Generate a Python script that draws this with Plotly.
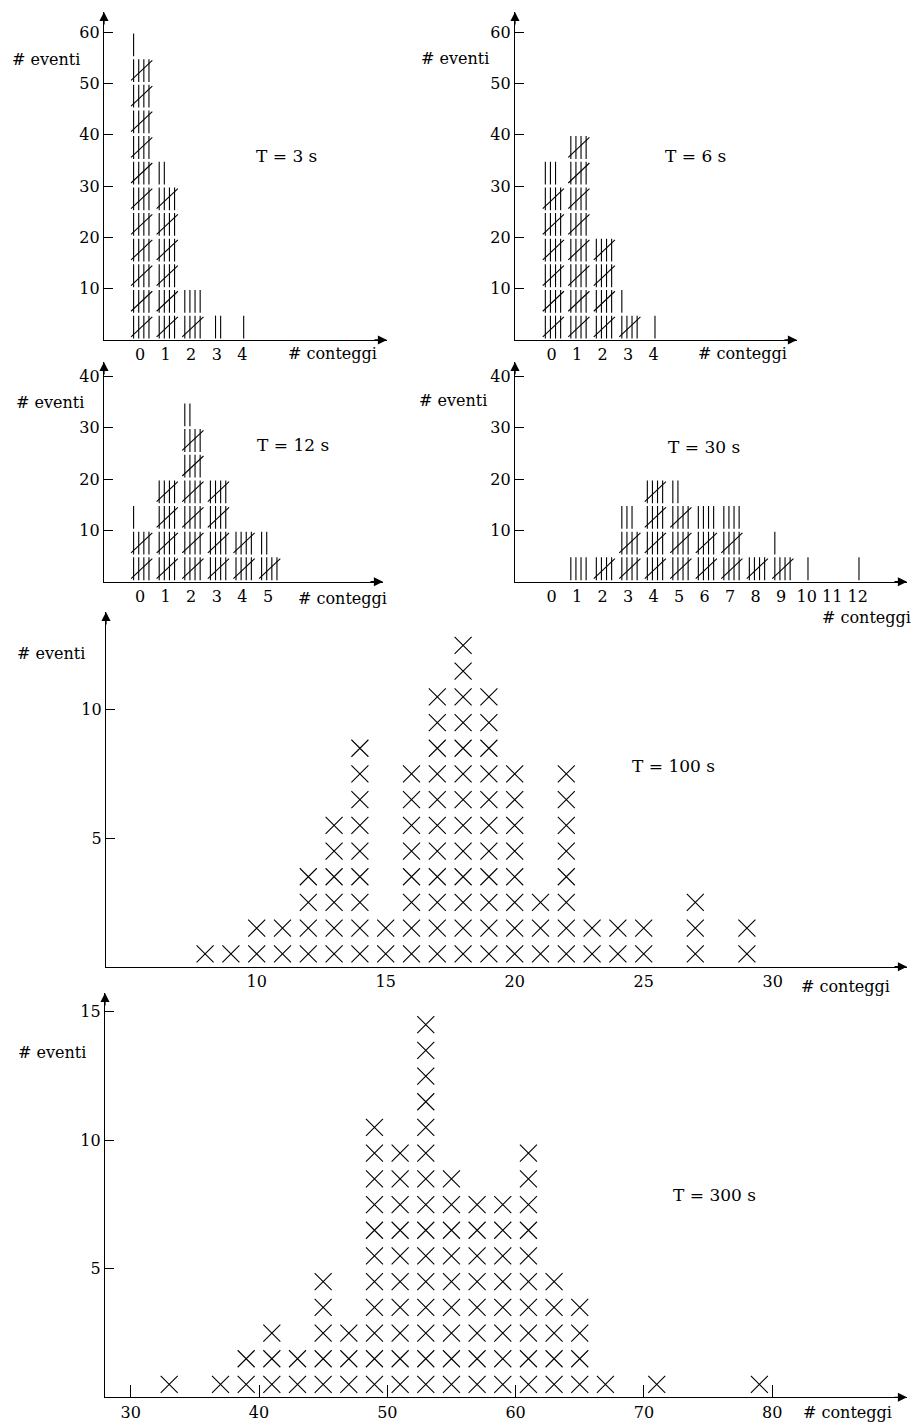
import plotly.graph_objects as go

W, H = 915, 1423
FONT = "DejaVu Serif"

# ---- data: number of intervals (# eventi) recording a given count (# conteggi)
t3_bins = [0, 1, 2, 3, 4]
t3_counts = [56, 32, 9, 2, 1]

t6_bins = [0, 1, 2, 3, 4]
t6_counts = [33, 40, 20, 6, 1]

t12_bins = [0, 1, 2, 3, 4, 5]
t12_counts = [11, 20, 32, 20, 10, 7]

t30_bins = [0, 1, 2, 3, 4, 5, 6, 7, 8, 9, 10, 11, 12]
t30_counts = [0, 4, 5, 13, 20, 17, 14, 14, 5, 6, 1, 0, 1]

t100_bins = [8, 9, 10, 11, 12, 13, 14, 15, 16, 17, 18, 19, 20, 21, 22, 23, 24, 25, 27, 29]
t100_counts = [1, 1, 2, 2, 4, 6, 9, 2, 8, 11, 13, 11, 8, 3, 8, 2, 2, 2, 3, 2]

t300_bins = [33, 37, 39, 41, 43, 45, 47, 49, 51, 53, 55, 57, 59, 61, 63, 65, 67, 71, 79]
t300_counts = [1, 1, 2, 3, 2, 5, 3, 11, 10, 15, 9, 8, 8, 10, 5, 4, 1, 1, 1]

# tick labels
t3_xticks = [0, 1, 2, 3, 4]
t12_xticks = [0, 1, 2, 3, 4, 5]
t30_xticks = list(range(13))
t100_xticks = [10, 15, 20, 25, 30]
t300_xticks = [30, 40, 50, 60, 70, 80]
yticks_60 = [10, 20, 30, 40, 50, 60]
yticks_40 = [10, 20, 30, 40]
yticks_10 = [5, 10]
yticks_15 = [5, 10, 15]

# ---- panel geometry in pixels:
# left, right(arrow tip), bottom(x axis), top(arrow tip), ref px, ref value, px/unit x, px/unit y
panels = [
    dict(name="T = 3 s", geo=(104, 387, 340, 12, 140.0, 0, 25.6, 5.13),
         label=(286, 156), ev=(46, 60), co=(332, 353)),
    dict(name="T = 6 s", geo=(515, 797, 340, 12, 551.7, 0, 25.5, 5.13),
         label=(695, 156), ev=(455, 58), co=(742, 353)),
    dict(name="T = 12 s", geo=(104, 383, 581.7, 362, 140.0, 0, 25.6, 5.13),
         label=(293, 445), ev=(50, 403), co=(342, 598)),
    dict(name="T = 30 s", geo=(515, 907, 581.7, 362, 551.7, 0, 25.5, 5.13),
         label=(704, 447), ev=(453, 400), co=(866, 617)),
    dict(name="T = 100 s", geo=(106, 907, 966.7, 612, 256.7, 10, 25.8, 25.7),
         label=(673, 766), ev=(51, 653), co=(845, 986)),
    dict(name="T = 300 s", geo=(105, 907, 1397.3, 993, 130.7, 30, 12.83, 25.7),
         label=(714, 1195), ev=(52, 1052), co=(847, 1412)),
]

tick_cfg = [
    (t3_xticks, yticks_60, False),
    (t3_xticks, yticks_60, False),
    (t12_xticks, yticks_40, False),
    (t30_xticks, yticks_40, False),
    (t100_xticks, yticks_10, False),
    (t300_xticks, yticks_15, True),
]

OFFS = [-0.3, -0.1, 0.1, 0.3]


def tally_lines(bins, counts):
    """Tally strokes: groups of four bars crossed by a slash, one group per 5 events."""
    xs, ys = [], []
    for b, n in zip(bins, counts):
        full, rest = divmod(n, 5)
        c = b + 0.05
        for k in range(full):
            base = 5 * k
            for off in OFFS:
                xs += [c + off, c + off, None]
                ys += [base + 0.3, base + 4.75, None]
            xs += [c - 0.40, c + 0.43, None]
            ys += [base + 0.6, base + 4.5, None]
        if rest:
            base = 5 * full
            if full:
                offs = OFFS[:rest]
            else:
                offs = [(i - (rest - 1) / 2) * 0.2 for i in range(rest)]
            for off in offs:
                xs += [c + off, c + off, None]
                ys += [base + 0.3, base + 4.75, None]
    return xs, ys


def cross_points(bins, counts):
    xs, ys = [], []
    for b, n in zip(bins, counts):
        for k in range(n):
            xs.append(b)
            ys.append(k + 0.5)
    return xs, ys


fig = go.Figure()
layout = dict(
    width=W, height=H, margin=dict(l=0, r=0, t=0, b=0),
    paper_bgcolor="white", plot_bgcolor="white", showlegend=False,
    font=dict(family=FONT, color="black", size=16),
)
annotations = []

datasets = [
    ("tally", t3_bins, t3_counts),
    ("tally", t6_bins, t6_counts),
    ("tally", t12_bins, t12_counts),
    ("tally", t30_bins, t30_counts),
    ("cross", t100_bins, t100_counts),
    ("cross", t300_bins, t300_counts),
]

for i, (p, (kind, bins, counts), (xt, yt, xticks_in)) in enumerate(
        zip(panels, datasets, tick_cfg), start=1):
    left, right, bottom, top, rpx, rval, ppx, ppy = p["geo"]
    xr = [rval + (left - rpx) / ppx, rval + (right - rpx) / ppx]
    yr = [0, (bottom - top) / ppy]
    xa = "xaxis" if i == 1 else f"xaxis{i}"
    ya = "yaxis" if i == 1 else f"yaxis{i}"
    xref = "x" if i == 1 else f"x{i}"
    yref = "y" if i == 1 else f"y{i}"

    layout[xa] = dict(
        domain=[left / W, right / W], range=xr, anchor=yref,
        showline=True, linecolor="black", linewidth=1.3,
        showgrid=False, zeroline=False,
        tickmode="array", tickvals=xt, ticktext=[str(v) for v in xt],
        ticks="inside" if xticks_in else "", ticklen=12, tickwidth=1.3,
        tickcolor="black", tickfont=dict(family=FONT, size=16, color="black"),
        fixedrange=True,
    )
    layout[ya] = dict(
        domain=[1 - bottom / H, 1 - top / H], range=yr, anchor=xref,
        showline=True, linecolor="black", linewidth=1.3,
        showgrid=False, zeroline=False,
        tickmode="array", tickvals=yt, ticktext=[str(v) for v in yt],
        ticks="inside", ticklen=9, tickwidth=1.2, tickcolor="black",
        tickfont=dict(family=FONT, size=16, color="black"),
        fixedrange=True,
    )

    if kind == "tally":
        xs, ys = tally_lines(bins, counts)
        fig.add_trace(go.Scatter(
            x=xs, y=ys, mode="lines", xaxis=xref, yaxis=yref,
            line=dict(color="black", width=1.1), hoverinfo="skip"))
    else:
        xs, ys = cross_points(bins, counts)
        fig.add_trace(go.Scatter(
            x=xs, y=ys, mode="markers", xaxis=xref, yaxis=yref,
            marker=dict(symbol="x-thin", size=17, color="black",
                        line=dict(color="black", width=1.1)),
            hoverinfo="skip"))

    # arrow heads at the axis ends
    annotations.append(dict(
        xref=xref, yref=yref, x=xr[1], y=0, ax=-14, ay=0, text="",
        showarrow=True, arrowhead=2, arrowsize=1.4, arrowwidth=1.3,
        arrowcolor="black", standoff=0))
    annotations.append(dict(
        xref=xref, yref=yref, x=xr[0], y=yr[1], ax=0, ay=14, text="",
        showarrow=True, arrowhead=2, arrowsize=1.4, arrowwidth=1.3,
        arrowcolor="black", standoff=0))

    # texts
    for (cx, cy), txt, size in ((p["label"], p["name"], 17),
                                (p["ev"], "# eventi", 16),
                                (p["co"], "# conteggi", 16)):
        annotations.append(dict(
            xref="paper", yref="paper", x=cx / W, y=1 - cy / H,
            xanchor="center", yanchor="middle", text=txt, showarrow=False,
            font=dict(family=FONT, size=size, color="black")))

layout["annotations"] = annotations
fig.update_layout(**layout)
fig.write_html("out.html")
